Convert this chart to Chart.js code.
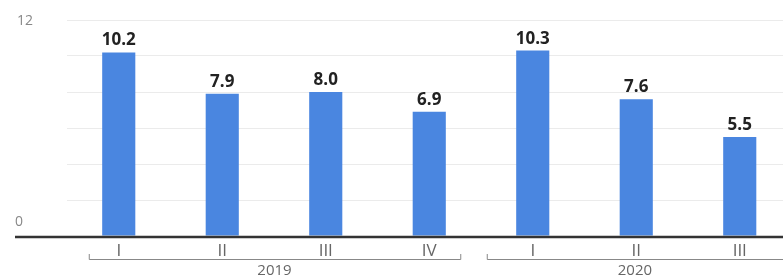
<!DOCTYPE html>
<html>
<head>
<meta charset="utf-8">
<script src="https://cdn.jsdelivr.net/npm/chart.js@4/dist/chart.umd.min.js"></script>
<style>
  html, body { margin: 0; padding: 0; background: #fff; overflow: hidden; }
  #wrap { width: 895px; height: 277px; }
</style>
</head>
<body>
<div id="wrap"><canvas id="chart"></canvas></div>
<script>
const quarters = ['I', 'II', 'III', 'IV', 'I', 'II', 'III', 'IV']
const values = [10.2, 7.9, 8.0, 6.9, 10.3, 7.6, 5.5, null]
const years = ['2019', '2020']
const yearStart = [0, 4]
const yTickLabels = [0, 12]

// etiquetas, eje base y corchetes de años
const decor = {
  id: 'decor',
  afterDatasetsDraw(chart) {
    const ctx = chart.ctx
    const x = chart.scales.x
    const y = chart.scales.y
    const area = chart.chartArea
    const visible = 783
    ctx.save()

    // valores sobre las barras
    ctx.fillStyle = '#222'
    ctx.font = 'bold 17px "Open Sans"'
    ctx.textAlign = 'center'
    ctx.textBaseline = 'alphabetic'
    values.forEach((v, i) => {
      if (v == null) return
      ctx.fillText(v.toFixed(1), x.getPixelForValue(i), y.getPixelForValue(v) - 7)
    })

    // línea base
    ctx.strokeStyle = '#333'
    ctx.lineWidth = 2.5
    ctx.beginPath()
    ctx.moveTo(15, y.getPixelForValue(0) + 1)
    ctx.lineTo(chart.width, y.getPixelForValue(0) + 1)
    ctx.stroke()

    // etiquetas del eje y
    ctx.fillStyle = '#888'
    ctx.font = '14px "Open Sans"'
    ctx.textAlign = 'left'
    ctx.textBaseline = 'middle'
    yTickLabels.forEach(t => {
      const py = t === 0 ? y.getPixelForValue(t) - 14 : y.getPixelForValue(t) + 1
      ctx.fillText(String(t), t === 0 ? 15 : 17, py)
    })

    // trimestres
    ctx.fillStyle = '#666'
    ctx.font = '17px "Open Sans"'
    ctx.textAlign = 'center'
    quarters.forEach((q, i) => {
      ctx.fillText(q, x.getPixelForValue(i), area.bottom + 15)
    })

    // corchetes y años
    const by = area.bottom + 23
    ctx.strokeStyle = '#888'
    ctx.lineWidth = 1
    const brackets = [
      [x.getPixelForValue(yearStart[0]) - 30, x.getPixelForValue(yearStart[1] - 1) + 31],
      [x.getPixelForValue(yearStart[1]) - 46, chart.width]
    ]
    brackets.forEach(([a, b], k) => {
      ctx.beginPath()
      ctx.moveTo(a + 0.5, by - 5)
      ctx.lineTo(a + 0.5, by + 0.5)
      ctx.lineTo(b + 0.5, by + 0.5)
      ctx.lineTo(b + 0.5, by - 5)
      ctx.stroke()
      const c = (a + Math.min(b, visible)) / 2
      ctx.fillStyle = '#666'
      ctx.font = '15px "Open Sans"'
      ctx.fillText(years[k], c, by + 12)
    })
    ctx.restore()
  }
}

new Chart(document.getElementById('chart'), {
  type: 'bar',
  data: {
    labels: quarters,
    datasets: [{
      data: values,
      backgroundColor: '#4a86e0',
      borderWidth: 0,
      categoryPercentage: 1,
      barPercentage: 0.32
    }]
  },
  options: {
    responsive: true,
    maintainAspectRatio: false,
    animation: false,
    layout: { padding: { left: 67, right: 0, top: 20, bottom: 41 } },
    plugins: { legend: { display: false }, tooltip: { enabled: false } },
    scales: {
      x: {
        display: false,
        grid: { display: false }
      },
      y: {
        min: 0,
        max: 12,
        ticks: { display: false, stepSize: 2 },
        border: { display: false },
        grid: {
          color: (c) => c.tick.value === 0 ? 'rgba(0,0,0,0)' : '#ebebeb',
          lineWidth: 1,
          drawTicks: false
        }
      }
    }
  },
  plugins: [decor]
})
</script>
</body>
</html>
